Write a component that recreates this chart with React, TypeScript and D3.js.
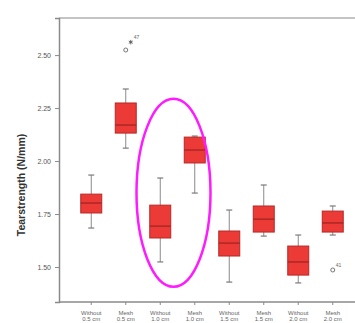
import React, { useEffect, useRef } from "react";
import * as d3 from "d3";

// groups along the x axis (two-line labels)
const groupTop = ["Without", "Mesh", "Without", "Mesh", "Without", "Mesh", "Without", "Mesh"];
const groupBottom = ["0.5 cm", "0.5 cm", "1.0 cm", "1.0 cm", "1.5 cm", "1.5 cm", "2.0 cm", "2.0 cm"];

// box statistics per group
const whiskerHigh = [1.934, 2.34, 1.92, 2.118, 1.769, 1.887, 1.651, 1.788];
const q3 = [1.844, 2.274, 1.792, 2.113, 1.67, 1.788, 1.599, 1.764];
const medians = [1.802, 2.17, 1.693, 2.052, 1.613, 1.726, 1.524, 1.708];
const q1 = [1.755, 2.132, 1.637, 1.991, 1.552, 1.665, 1.462, 1.665];
const whiskerLow = [1.684, 2.061, 1.524, 1.849, 1.429, 1.646, 1.425, 1.651];

// outliers: group index, value, marker kind, label
const outlierGroup = [1, 1, 7];
const outlierValue = [2.524, 2.561, 1.486];
const outlierKind = ["circle", "star", "circle"];
const outlierLabel = ["", "47", "41"];

const yTicks = [1.5, 1.75, 2.0, 2.25, 2.5];

const App = () => {
  const svgRef = useRef<SVGSVGElement>(null);

  useEffect(() => {
    const width = 355;
    const height = 323;
    const svg = d3.select(svgRef.current);
    svg.selectAll("*").remove();
    svg.attr("width", width).attr("height", height);

    const left = 59, top = 18, bottom = 302;
    const keys = groupTop.map((_, i) => `g${i}`);

    const x = d3.scaleBand().domain(keys).range([74, 350]);
    const y = d3.scaleLinear().domain([1.335, 2.675]).range([bottom, top]);
    const cx = (i: number) => (x(keys[i]) as number) + x.bandwidth() / 2;
    const boxW = 21;

    // frame
    const frame = "#8a8a8a";
    svg.append("line").attr("x1", left).attr("x2", width).attr("y1", top).attr("y2", top)
      .attr("stroke", frame).attr("stroke-width", 1.2);
    svg.append("line").attr("x1", left).attr("x2", width).attr("y1", bottom).attr("y2", bottom)
      .attr("stroke", frame).attr("stroke-width", 1.5);

    // y axis
    const yAxis = svg.append("g").attr("transform", `translate(${left},0)`)
      .call(d3.axisLeft(y).tickValues(yTicks).tickSize(4).tickPadding(4).tickFormat(d3.format(".2f")));
    yAxis.select(".domain").attr("stroke", frame).attr("stroke-width", 1.5);
    yAxis.selectAll(".tick line").attr("stroke", frame);
    yAxis.selectAll(".tick text").attr("fill", "#555").style("font-size", "7px")
      .style("font-family", "Arial, 'Liberation Sans', sans-serif");

    // x axis ticks + labels
    const xAxis = svg.append("g").attr("transform", `translate(0,${bottom})`)
      .call(d3.axisBottom(x).tickSize(3).tickFormat(() => ""));
    xAxis.select(".domain").remove();
    xAxis.selectAll(".tick line").attr("stroke", frame);

    const labels = svg.append("g").style("font-family", "Arial, 'Liberation Sans', sans-serif")
      .style("font-size", "6px").attr("fill", "#666").attr("text-anchor", "middle");
    keys.forEach((k, i) => {
      labels.append("text").attr("x", cx(i)).attr("y", bottom + 13).text(groupTop[i]);
      labels.append("text").attr("x", cx(i)).attr("y", bottom + 19).text(groupBottom[i]);
    });

    // y axis title
    svg.append("text")
      .attr("transform", `translate(25,${(top + bottom) / 2 + 25}) rotate(-90)`)
      .attr("text-anchor", "middle")
      .style("font-family", "Arial, 'Liberation Sans', sans-serif")
      .style("font-size", "10.5px").style("font-weight", "bold").attr("fill", "#333")
      .text("Tearstrength (N/mm)");

    // boxes
    const boxes = svg.append("g");
    keys.forEach((k, i) => {
      const c = cx(i);
      const g = boxes.append("g");
      g.append("line").attr("x1", c).attr("x2", c).attr("y1", y(whiskerHigh[i])).attr("y2", y(whiskerLow[i]))
        .attr("stroke", "#8a8a8a").attr("stroke-width", 1);
      [whiskerHigh[i], whiskerLow[i]].forEach(v => {
        g.append("line").attr("x1", c - 3).attr("x2", c + 3).attr("y1", y(v)).attr("y2", y(v))
          .attr("stroke", "#7a7a7a").attr("stroke-width", 1.2);
      });
      g.append("rect").attr("x", c - boxW / 2).attr("width", boxW)
        .attr("y", y(q3[i])).attr("height", y(q1[i]) - y(q3[i]))
        .attr("fill", "#ec3a36").attr("stroke", "#b52a28").attr("stroke-width", 1);
      g.append("line").attr("x1", c - boxW / 2).attr("x2", c + boxW / 2)
        .attr("y1", y(medians[i])).attr("y2", y(medians[i]))
        .attr("stroke", "#9c2320").attr("stroke-width", 1.2);
    });

    // outliers
    outlierGroup.forEach((gi, j) => {
      const c = cx(gi) + (outlierKind[j] === "star" ? 5 : 0);
      const py = y(outlierValue[j]);
      if (outlierKind[j] === "circle") {
        svg.append("circle").attr("cx", c).attr("cy", py).attr("r", 2)
          .attr("fill", "none").attr("stroke", "#666").attr("stroke-width", 0.9);
      } else {
        svg.append("path").attr("d", d3.symbol(d3.symbolAsterisk, 14)())
          .attr("transform", `translate(${c},${py})`).attr("stroke", "#555").attr("stroke-width", 0.9);
      }
      if (outlierLabel[j]) {
        svg.append("text").attr("x", c + 3).attr("y", py - 3)
          .style("font-family", "Arial, sans-serif").style("font-size", "5px").attr("fill", "#666")
          .text(outlierLabel[j]);
      }
    });

    // highlight ellipse around the middle pair
    svg.append("ellipse")
      .attr("cx", (cx(2) + cx(3)) / 2 - 4).attr("cy", y(1.85))
      .attr("rx", 37).attr("ry", 94)
      .attr("fill", "none").attr("stroke", "#ff1aff").attr("stroke-width", 2.5);
  }, []);

  return (
    <div style={{ position: "absolute", left: 0, top: 0 }}>
      <svg ref={svgRef} style={{ display: "block" }}></svg>
    </div>
  );
};

export default App;
